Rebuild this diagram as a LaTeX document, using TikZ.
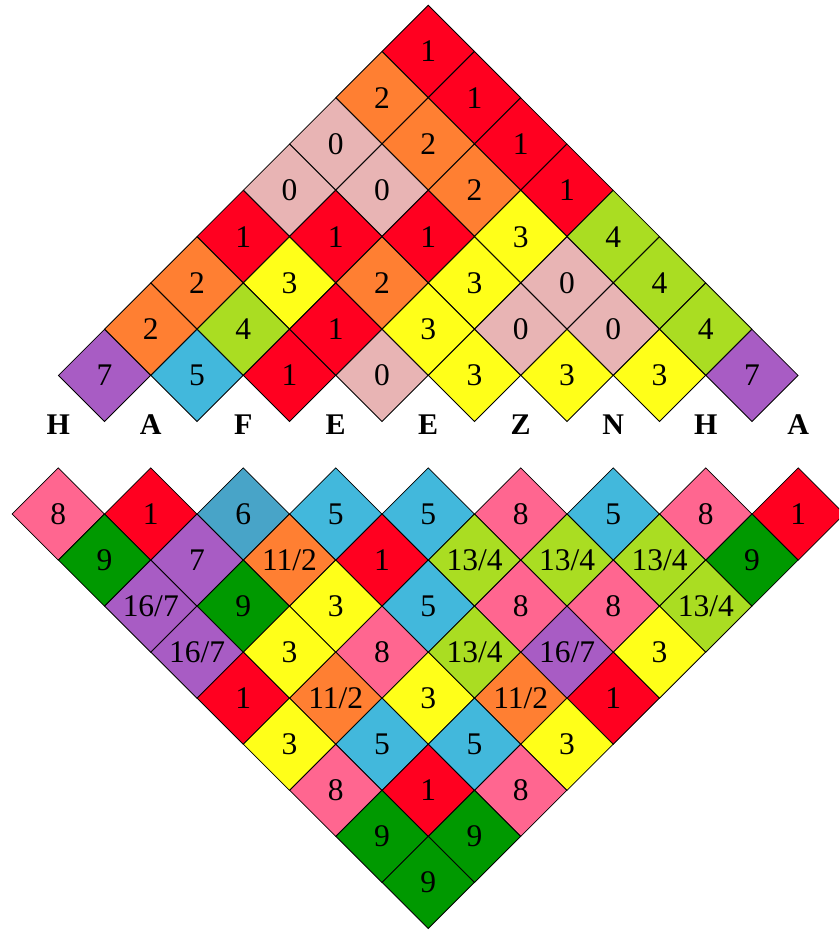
\documentclass[tikz,border=0pt]{standalone}
\usepackage{fontspec}
\setmainfont{Liberation Serif}
\usetikzlibrary{shapes.geometric}
\definecolor{cZero}{RGB}{232,180,180}
\definecolor{cRed}{RGB}{255,0,32}
\definecolor{cOrange}{RGB}{255,127,50}
\definecolor{cYellow}{RGB}{255,255,25}
\definecolor{cYG}{RGB}{170,221,34}
\definecolor{cBlue}{RGB}{66,184,220}
\definecolor{cSteel}{RGB}{72,164,200}
\definecolor{cPurple}{RGB}{168,92,196}
\definecolor{cPink}{RGB}{255,102,144}
\definecolor{cGreen}{RGB}{0,153,0}
\tikzset{
  cell/.style={shape=diamond, draw=black, line width=0.8pt,
    minimum width=92.5pt, minimum height=92.5pt, inner sep=0pt,
    text height=21pt, text depth=0pt,
    font=\fontsize{31.5}{31.5}\selectfont},
  lab/.style={inner sep=0pt, text height=20pt, text depth=0pt,
    font=\fontsize{30}{30}\selectfont\bfseries}
}
\newcommand\tcell[4]{%
  \pgfmathsetmacro\cx{428.25-#1*46.25+#2*92.5}%
  \pgfmathsetmacro\cy{5+46.3*(#1+1)}%
  \node[cell,fill=#3] (t#1-#2) at (\cx,\cy) {#4};}
\newcommand\bcell[4]{%
  \pgfmathsetmacro\cx{58.25+#1*46.25+#2*92.5}%
  \pgfmathsetmacro\cy{514+46.05*#1}%
  \node[cell,fill=#3] (b#1-#2) at (\cx,\cy) {#4};}
\begin{document}
\begin{tikzpicture}[x=1pt,y=-1pt]
\useasboundingbox (0,0) rectangle (839,930);
\clip (0,0) rectangle (839,930);
% top triangle
\tcell{0}{0}{cRed}{1}
\tcell{1}{0}{cOrange}{2}\tcell{1}{1}{cRed}{1}
\tcell{2}{0}{cZero}{0}\tcell{2}{1}{cOrange}{2}\tcell{2}{2}{cRed}{1}
\tcell{3}{0}{cZero}{0}\tcell{3}{1}{cZero}{0}\tcell{3}{2}{cOrange}{2}\tcell{3}{3}{cRed}{1}
\tcell{4}{0}{cRed}{1}\tcell{4}{1}{cRed}{1}\tcell{4}{2}{cRed}{1}\tcell{4}{3}{cYellow}{3}\tcell{4}{4}{cYG}{4}
\tcell{5}{0}{cOrange}{2}\tcell{5}{1}{cYellow}{3}\tcell{5}{2}{cOrange}{2}\tcell{5}{3}{cYellow}{3}\tcell{5}{4}{cZero}{0}\tcell{5}{5}{cYG}{4}
\tcell{6}{0}{cOrange}{2}\tcell{6}{1}{cYG}{4}\tcell{6}{2}{cRed}{1}\tcell{6}{3}{cYellow}{3}\tcell{6}{4}{cZero}{0}\tcell{6}{5}{cZero}{0}\tcell{6}{6}{cYG}{4}
\tcell{7}{0}{cPurple}{7}\tcell{7}{1}{cBlue}{5}\tcell{7}{2}{cRed}{1}\tcell{7}{3}{cZero}{0}\tcell{7}{4}{cYellow}{3}\tcell{7}{5}{cYellow}{3}\tcell{7}{6}{cYellow}{3}\tcell{7}{7}{cPurple}{7}
% letters
\node[lab] (L0) at (58.25,424) {H};
\node[lab] (L1) at (150.75,424) {A};
\node[lab] (L2) at (243.25,424) {F};
\node[lab] (L3) at (335.75,424) {E};
\node[lab] (L4) at (428.25,424) {E};
\node[lab] (L5) at (520.75,424) {Z};
\node[lab] (L6) at (613.25,424) {N};
\node[lab] (L7) at (705.75,424) {H};
\node[lab] (L8) at (798.25,424) {A};
% bottom triangle
\bcell{0}{0}{cPink}{8}\bcell{0}{1}{cRed}{1}\bcell{0}{2}{cSteel}{6}\bcell{0}{3}{cBlue}{5}\bcell{0}{4}{cBlue}{5}\bcell{0}{5}{cPink}{8}\bcell{0}{6}{cBlue}{5}\bcell{0}{7}{cPink}{8}\bcell{0}{8}{cRed}{1}
\bcell{1}{0}{cGreen}{9}\bcell{1}{1}{cPurple}{7}\bcell{1}{2}{cOrange}{11/2}\bcell{1}{3}{cRed}{1}\bcell{1}{4}{cYG}{13/4}\bcell{1}{5}{cYG}{13/4}\bcell{1}{6}{cYG}{13/4}\bcell{1}{7}{cGreen}{9}
\bcell{2}{0}{cPurple}{16/7}\bcell{2}{1}{cGreen}{9}\bcell{2}{2}{cYellow}{3}\bcell{2}{3}{cBlue}{5}\bcell{2}{4}{cPink}{8}\bcell{2}{5}{cPink}{8}\bcell{2}{6}{cYG}{13/4}
\bcell{3}{0}{cPurple}{16/7}\bcell{3}{1}{cYellow}{3}\bcell{3}{2}{cPink}{8}\bcell{3}{3}{cYG}{13/4}\bcell{3}{4}{cPurple}{16/7}\bcell{3}{5}{cYellow}{3}
\bcell{4}{0}{cRed}{1}\bcell{4}{1}{cOrange}{11/2}\bcell{4}{2}{cYellow}{3}\bcell{4}{3}{cOrange}{11/2}\bcell{4}{4}{cRed}{1}
\bcell{5}{0}{cYellow}{3}\bcell{5}{1}{cBlue}{5}\bcell{5}{2}{cBlue}{5}\bcell{5}{3}{cYellow}{3}
\bcell{6}{0}{cPink}{8}\bcell{6}{1}{cRed}{1}\bcell{6}{2}{cPink}{8}
\bcell{7}{0}{cGreen}{9}\bcell{7}{1}{cGreen}{9}
\bcell{8}{0}{cGreen}{9}
\end{tikzpicture}
\end{document}
